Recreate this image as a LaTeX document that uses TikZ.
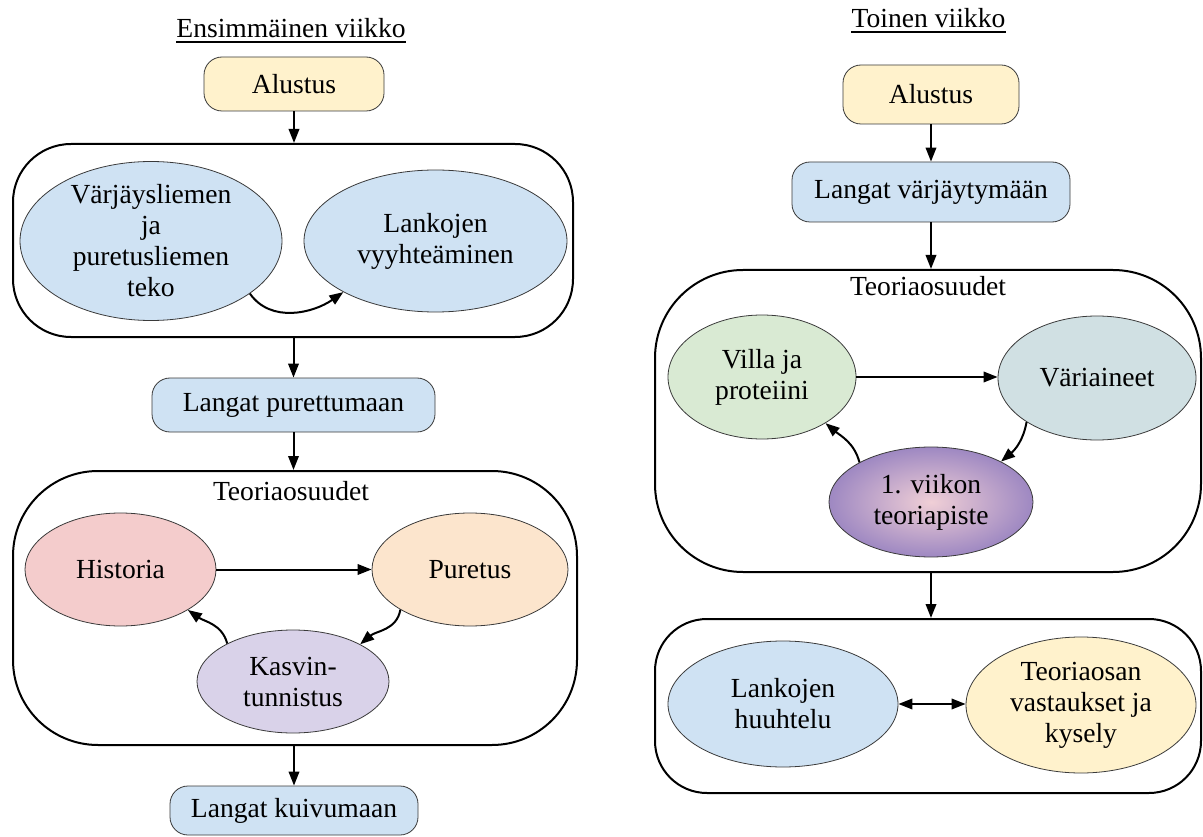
\documentclass[tikz,border=0pt]{standalone}
\usepackage{fontspec}
\setmainfont{Liberation Serif}
\usetikzlibrary{shapes.geometric,arrows.meta}

\definecolor{boxyellow}{HTML}{FFF2CC}
\definecolor{boxblue}{HTML}{CFE2F3}
\definecolor{rosefill}{HTML}{F4CCCC}
\definecolor{peachfill}{HTML}{FCE5CD}
\definecolor{lavfill}{HTML}{D9D2E9}
\definecolor{greenfill}{HTML}{D9EAD3}
\definecolor{tealfill}{HTML}{D0E0E3}
\definecolor{edgegrey}{HTML}{3A3A3A}
\definecolor{gradin}{HTML}{F0CFD6}
\definecolor{gradout}{HTML}{9E88C2}

\tikzset{
  every node/.style={font=\fontsize{27.6}{31}\selectfont, text=black},
  stepbox/.style={draw=edgegrey, line width=0.8pt, rounded corners=18pt,
                  inner sep=0pt, align=center},
  bubble/.style={ellipse, draw=edgegrey, line width=0.8pt, inner sep=0pt,
                 align=center},
  group/.style={draw=black, line width=2pt, inner sep=0pt},
  heading/.style={inner sep=0pt, anchor=base},
  flow/.style={-{Triangle[length=14pt,width=10.5pt]}, line width=2pt},
  flowboth/.style={{Triangle[length=14pt,width=10.5pt]}-{Triangle[length=14pt,width=10.5pt]},
                   line width=2pt},
}

\begin{document}
\begin{tikzpicture}[x=1pt,y=-1pt]
\useasboundingbox (0,0) rectangle (1203,837);

% ---------------- first week ----------------
\node[heading] (title1) at (291,38) {Ensimmäinen viikko};
\draw[line width=1.3pt] ([yshift=-4pt]title1.base west) -- ([yshift=-4pt]title1.base east);

\node[stepbox, fill=boxyellow, minimum width=180pt, minimum height=54pt] (alu1) at (294,84) {Alustus};

\node[group, rounded corners=58pt, minimum width=560pt, minimum height=193pt] (grp1) at (293,240.5) {};
\node[bubble, fill=boxblue, minimum width=262pt, minimum height=142pt] (prep) at (151,241)
  {Värjäysliemen\\ja\\puretusliemen\\teko};
\node[bubble, fill=boxblue, minimum width=263pt, minimum height=142pt] (wind) at (435.5,241)
  {Lankojen\\vyyhteäminen};

\node[stepbox, fill=boxblue, minimum width=283pt, minimum height=54pt] (mord) at (293.5,405) {Langat purettumaan};

\node[group, rounded corners=85pt, minimum width=564pt, minimum height=274pt] (grp2) at (295,608) {};
\node[heading] (lab2) at (291,500) {Teoriaosuudet};
\node[bubble, fill=rosefill, minimum width=191pt, minimum height=113pt] (hist) at (120.5,569.5) {Historia};
\node[bubble, fill=peachfill, minimum width=196pt, minimum height=113pt] (pur) at (470,569.5) {Puretus};
\node[bubble, fill=lavfill, minimum width=192pt, minimum height=103pt] (plant) at (293,681.5) {Kasvin-\\tunnistus};

\node[stepbox, fill=boxblue, minimum width=248pt, minimum height=49pt] (dry) at (294,810.5) {Langat kuivumaan};

\draw[flow] (alu1.south) -- (alu1.south |- grp1.north);
\draw[flow] (prep.-28) to[out=-55,in=-145] (wind.-151);
\draw[flow] (grp1.south -| mord.north) -- (mord.north);
\draw[flow] (mord.south) -- (mord.south |- grp2.north);
\draw[flow] (hist.east) -- (pur.west);
\draw[flow] (pur.-150) to[out=-100,in=40] (plant.29);
\draw[flow] (plant.150) to[out=105,in=-35] (hist.-31);
\draw[flow] (grp2.south -| dry.north) -- (dry.north);

% ---------------- second week ----------------
\node[heading] (title2) at (928.5,28) {Toinen viikko};
\draw[line width=1.3pt] ([yshift=-4pt]title2.base west) -- ([yshift=-4pt]title2.base east);

\node[stepbox, fill=boxyellow, minimum width=176pt, minimum height=59pt] (alu2) at (931,94.5) {Alustus};
\node[stepbox, fill=boxblue, minimum width=278pt, minimum height=60pt] (dye) at (931,192) {Langat värjäytymään};

\node[group, rounded corners=88pt, minimum width=546pt, minimum height=302pt] (grp3) at (928,421) {};
\node[heading] (lab3) at (928,295) {Teoriaosuudet};
\node[bubble, fill=greenfill, minimum width=188pt, minimum height=124pt] (wool) at (762,377) {Villa ja\\proteiini};
\node[bubble, fill=tealfill, minimum width=198pt, minimum height=124pt] (dyes) at (1097,378) {Väriaineet};
\node[bubble, draw=edgegrey, inner color=gradin, outer color=gradout,
      minimum width=204pt, minimum height=110pt] (recap) at (931,502) {1. viikon\\teoriapiste};

\node[group, rounded corners=52pt, minimum width=546pt, minimum height=174pt] (grp4) at (928,706) {};
\node[bubble, fill=boxblue, minimum width=230pt, minimum height=126pt] (rinse) at (783,704) {Lankojen\\huuhtelu};
\node[bubble, fill=boxyellow, minimum width=230pt, minimum height=136pt] (answers) at (1081,705)
  {Teoriaosan\\vastaukset ja\\kysely};

\draw[flow] (alu2.south) -- (dye.north);
\draw[flow] (dye.south) -- (dye.south |- grp3.north);
\draw[flow] (wool.east) -- (wool.east -| dyes.west);
\draw[flow] (dyes.-148) to[out=-100,in=40] (recap.30);
\draw[flow] (recap.151) to[out=105,in=-40] (wool.-36);
\draw[flow] (grp3.south -| dye.south) -- (dye.south |- grp4.north);
\draw[flowboth] (rinse.east) -- (rinse.east -| answers.west);

\end{tikzpicture}
\end{document}
